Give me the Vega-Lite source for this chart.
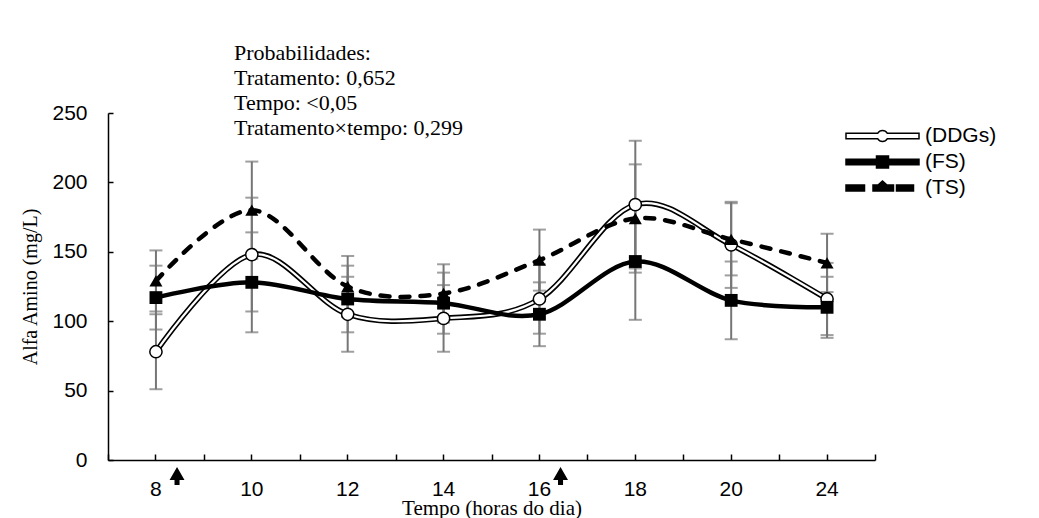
{
  "$schema": "https://vega.github.io/schema/vega-lite/v6.json",
  "width": 767,
  "height": 347,
  "autosize": {"type": "none"},
  "padding": {"left": 108, "top": 113, "right": 164, "bottom": 58},
  "background": "white",
  "config": {
    "view": {"stroke": null},
    "font": "Liberation Sans",
    "axis": {"grid": false, "domainColor": "black", "tickColor": "black", "labelColor": "black", "titleColor": "black"}
  },
  "datasets": {
    "medias": [
      {"hora": "8", "serie": "(DDGs)", "valor": 78, "min": 51, "max": 105},
      {"hora": "10", "serie": "(DDGs)", "valor": 148, "min": 107, "max": 189},
      {"hora": "12", "serie": "(DDGs)", "valor": 105, "min": 78, "max": 132},
      {"hora": "14", "serie": "(DDGs)", "valor": 102, "min": 78, "max": 126},
      {"hora": "16", "serie": "(DDGs)", "valor": 116, "min": 91, "max": 141},
      {"hora": "18", "serie": "(DDGs)", "valor": 184, "min": 138, "max": 230},
      {"hora": "20", "serie": "(DDGs)", "valor": 155, "min": 124, "max": 186},
      {"hora": "24", "serie": "(DDGs)", "valor": 116, "min": 90, "max": 142},
      {"hora": "8", "serie": "(FS)", "valor": 117, "min": 94, "max": 140},
      {"hora": "10", "serie": "(FS)", "valor": 128, "min": 92, "max": 164},
      {"hora": "12", "serie": "(FS)", "valor": 116, "min": 92, "max": 140},
      {"hora": "14", "serie": "(FS)", "valor": 113, "min": 91, "max": 135},
      {"hora": "16", "serie": "(FS)", "valor": 105, "min": 82, "max": 128},
      {"hora": "18", "serie": "(FS)", "valor": 143, "min": 101, "max": 185},
      {"hora": "20", "serie": "(FS)", "valor": 115, "min": 87, "max": 143},
      {"hora": "24", "serie": "(FS)", "valor": 110, "min": 88, "max": 132},
      {"hora": "8", "serie": "(TS)", "valor": 129, "min": 107, "max": 151},
      {"hora": "10", "serie": "(TS)", "valor": 180, "min": 145, "max": 215},
      {"hora": "12", "serie": "(TS)", "valor": 125, "min": 103, "max": 147},
      {"hora": "14", "serie": "(TS)", "valor": 120, "min": 99, "max": 141},
      {"hora": "16", "serie": "(TS)", "valor": 144, "min": 122, "max": 166},
      {"hora": "18", "serie": "(TS)", "valor": 174, "min": 135, "max": 213},
      {"hora": "20", "serie": "(TS)", "valor": 159, "min": 133, "max": 185},
      {"hora": "24", "serie": "(TS)", "valor": 142, "min": 121, "max": 163}
    ],
    "setas": [{"hora": "8"}, {"hora": "16"}],
    "nota": [{"hora": "10", "texto": "Probabilidades:\nTratamento: 0,652\nTempo: <0,05\nTratamento×tempo: 0,299"}]
  },
  "layer": [
    {
      "data": {"name": "medias"},
      "mark": {"type": "rule", "color": "#767676", "strokeWidth": 2},
      "encoding": {
        "x": {"field": "hora", "type": "nominal", "sort": ["8", "10", "12", "14", "16", "18", "20", "24"],
              "scale": {"paddingInner": 0, "paddingOuter": 0},
              "axis": {"orient": "bottom", "title": null, "labels": false, "domain": false, "tickBand": "extent", "tickSize": -6, "tickWidth": 1.5, "tickColor": "black"}},
        "y": {"field": "min", "type": "quantitative", "scale": {"domain": [0, 250], "nice": false},
              "axis": {"title": "Alfa Amino (mg/L)", "values": [0, 50, 100, 150, 200, 250], "tickSize": -5, "tickWidth": 1.5, "domainWidth": 1.5,
                       "labelPadding": 26, "labelFont": "Liberation Sans", "labelFontSize": 21,
                       "titleFont": "Liberation Serif", "titleFontSize": 20, "titleFontWeight": "normal", "titleX": -72, "titleBaseline": "alphabetic"}},
        "y2": {"field": "max"}
      }
    },
    {
      "data": {"name": "medias"},
      "mark": {"type": "tick", "color": "#767676", "thickness": 2, "size": 13},
      "encoding": {
        "x": {"field": "hora", "type": "nominal", "sort": ["8", "10", "12", "14", "16", "18", "20", "24"], "axis": null},
        "y": {"field": "max", "type": "quantitative"}
      }
    },
    {
      "data": {"name": "medias"},
      "mark": {"type": "tick", "color": "#767676", "thickness": 2, "size": 13},
      "encoding": {
        "x": {"field": "hora", "type": "nominal", "sort": ["8", "10", "12", "14", "16", "18", "20", "24"], "axis": null},
        "y": {"field": "min", "type": "quantitative"}
      }
    },
    {
      "data": {"name": "medias"},
      "transform": [{"filter": "datum.serie === '(DDGs)'"}],
      "mark": {"type": "line", "color": "black", "strokeWidth": 5.5, "interpolate": "cardinal"},
      "encoding": {
        "x": {"field": "hora", "type": "nominal", "sort": ["8", "10", "12", "14", "16", "18", "20", "24"],
              "axis": {"orient": "bottom", "title": "Tempo (horas do dia)", "labelAngle": 0, "tickBand": "center", "tickSize": -6, "tickWidth": 1.5,
                       "domainWidth": 1.5, "labelPadding": 24, "labelFont": "Liberation Sans", "labelFontSize": 21,
                       "titleFont": "Liberation Serif", "titleFontSize": 21, "titleFontWeight": "normal", "titleY": 54, "titleBaseline": "alphabetic"}},
        "y": {"field": "valor", "type": "quantitative"}
      }
    },
    {
      "data": {"name": "medias"},
      "transform": [{"filter": "datum.serie === '(DDGs)'"}],
      "mark": {"type": "line", "color": "white", "strokeWidth": 2.2, "interpolate": "cardinal"},
      "encoding": {
        "x": {"field": "hora", "type": "nominal", "sort": ["8", "10", "12", "14", "16", "18", "20", "24"], "axis": null},
        "y": {"field": "valor", "type": "quantitative"}
      }
    },
    {
      "data": {"name": "medias"},
      "transform": [{"filter": "datum.serie === '(FS)'"}],
      "mark": {"type": "line", "color": "black", "strokeWidth": 4.5, "interpolate": "cardinal"},
      "encoding": {
        "x": {"field": "hora", "type": "nominal", "sort": ["8", "10", "12", "14", "16", "18", "20", "24"], "axis": null},
        "y": {"field": "valor", "type": "quantitative"}
      }
    },
    {
      "data": {"name": "medias"},
      "transform": [{"filter": "datum.serie === '(TS)'"}],
      "mark": {"type": "line", "color": "black", "strokeWidth": 4.5, "interpolate": "cardinal", "strokeDash": [9, 11], "strokeCap": "round"},
      "encoding": {
        "x": {"field": "hora", "type": "nominal", "sort": ["8", "10", "12", "14", "16", "18", "20", "24"], "axis": null},
        "y": {"field": "valor", "type": "quantitative"}
      }
    },
    {
      "data": {"name": "medias"},
      "transform": [{"filter": "datum.serie === '(DDGs)'"}],
      "mark": {"type": "point", "shape": "circle", "filled": true, "fill": "white", "stroke": "black", "strokeWidth": 1.5, "size": 150, "opacity": 1},
      "encoding": {
        "x": {"field": "hora", "type": "nominal", "sort": ["8", "10", "12", "14", "16", "18", "20", "24"], "axis": null},
        "y": {"field": "valor", "type": "quantitative"}
      }
    },
    {
      "data": {"name": "medias"},
      "transform": [{"filter": "datum.serie === '(FS)'"}],
      "mark": {"type": "point", "shape": "square", "filled": true, "fill": "black", "size": 165, "opacity": 1},
      "encoding": {
        "x": {"field": "hora", "type": "nominal", "sort": ["8", "10", "12", "14", "16", "18", "20", "24"], "axis": null},
        "y": {"field": "valor", "type": "quantitative"}
      }
    },
    {
      "data": {"name": "medias"},
      "transform": [{"filter": "datum.serie === '(TS)'"}],
      "mark": {"type": "point", "shape": "triangle-up", "filled": true, "fill": "black", "size": 170, "opacity": 1},
      "encoding": {
        "x": {"field": "hora", "type": "nominal", "sort": ["8", "10", "12", "14", "16", "18", "20", "24"], "axis": null},
        "y": {"field": "valor", "type": "quantitative"}
      }
    },
    {
      "data": {"name": "medias"},
      "mark": {"type": "point", "filled": true, "opacity": 0, "stroke": "black", "strokeWidth": 1.5},
      "encoding": {
        "x": {"field": "hora", "type": "nominal", "sort": ["8", "10", "12", "14", "16", "18", "20", "24"], "axis": null},
        "y": {"field": "valor", "type": "quantitative"},
        "shape": {"field": "serie", "type": "nominal",
                  "scale": {"domain": ["(DDGs)", "(FS)", "(TS)"],
                            "range": ["M-3.65,-0.28H-0.473A0.55,0.55,0,0,1,0.473,-0.28H3.65V0.28H0.473A0.55,0.55,0,0,1,-0.473,0.28H-3.65Z",
                                      "M-3.65,-0.28H-0.6V-0.6H0.6V-0.28H3.65V0.28H0.6V0.6H-0.6V0.28H-3.65Z",
                                      "M-3.65,-0.3H-1.8V0.3H-3.65Z M-0.95,-0.3H-0.45L0,-0.7L0.45,-0.3H1.1V0.3H-0.95Z M1.4,-0.3H3.1V0.3H1.4Z"]},
                  "legend": {"title": null, "orient": "none", "legendX": 763.5, "legendY": 12, "symbolSize": 400, "labelOffset": 31.5, "rowPadding": 5, "padding": 0,
                             "labelFont": "Liberation Sans", "labelFontSize": 21, "labelColor": "black", "symbolStrokeColor": "black", "symbolStrokeWidth": 1.5,
                             "encode": {"symbols": {"update": {"opacity": {"value": 1}, "fillOpacity": {"value": 1}, "strokeOpacity": {"value": 1}}}}}},
        "fill": {"field": "serie", "type": "nominal",
                 "scale": {"domain": ["(DDGs)", "(FS)", "(TS)"], "range": ["white", "black", "black"]},
                 "legend": {"title": null, "orient": "none", "legendX": 763.5, "legendY": 12, "symbolSize": 400, "labelOffset": 31.5, "rowPadding": 5, "padding": 0,
                            "labelFont": "Liberation Sans", "labelFontSize": 21, "labelColor": "black", "symbolStrokeColor": "black", "symbolStrokeWidth": 1.5,
                            "encode": {"symbols": {"update": {"opacity": {"value": 1}, "fillOpacity": {"value": 1}, "strokeOpacity": {"value": 1}}}}}}
      }
    },
    {
      "data": {"name": "setas"},
      "mark": {"type": "point", "filled": true, "color": "black", "opacity": 1, "size": 324,
               "shape": "M0,-1L0.83,0.45L0.28,0.45L0.28,1L-0.28,1L-0.28,0.45L-0.83,0.45Z"},
      "encoding": {
        "x": {"field": "hora", "type": "nominal", "sort": ["8", "10", "12", "14", "16", "18", "20", "24"], "axis": null, "bandPosition": 0.72},
        "y": {"datum": -11.5, "type": "quantitative"}
      }
    },
    {
      "data": {"name": "nota"},
      "mark": {"type": "text", "align": "left", "baseline": "alphabetic", "font": "Liberation Serif", "fontSize": 22, "lineHeight": 25, "lineBreak": "\n", "color": "black"},
      "encoding": {
        "x": {"field": "hora", "type": "nominal", "sort": ["8", "10", "12", "14", "16", "18", "20", "24"], "axis": null, "bandPosition": 0.314},
        "y": {"datum": 288, "type": "quantitative"},
        "text": {"field": "texto", "type": "nominal"}
      }
    }
  ],
  "resolve": {"axis": {"x": "independent"}}
}
